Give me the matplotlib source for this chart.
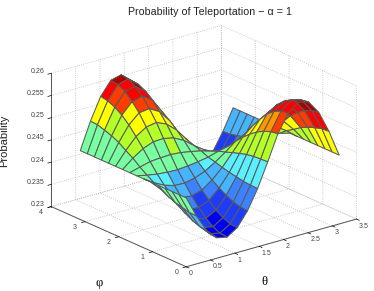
import numpy as np
import matplotlib
matplotlib.use('Agg')
import matplotlib.pyplot as plt
from matplotlib.colors import ListedColormap, BoundaryNorm
from mpl_toolkits.mplot3d import proj3d

plt.rcParams['font.family'] = ['Liberation Sans', 'DejaVu Sans']

theta_ticks = [0, 0.5, 1, 1.5, 2, 2.5, 3, 3.5]
theta_labels = ['0', '0.5', '1', '1.5', '2', '2.5', '3', '3.5']
phi_ticks = [0, 1, 2, 3, 4]
phi_labels = ['0', '1', '2', '3', '4']
prob_ticks = [0.23, 0.235, 0.24, 0.245, 0.25, 0.255, 0.26]
prob_labels = ['0.23', '0.235', '0.24', '0.245', '0.25', '0.255', '0.26']

# colour bands seen on the surface
band_edges = [0.23, 0.2354, 0.2381, 0.24, 0.2427, 0.2441, 0.247, 0.2505, 0.2532, 0.2541, 0.256, 0.2586, 0.262]
band_colors = ['#0000f0', '#1e3cf5', '#3c82ff', '#46b4ff', '#5af0ff', '#78ffa0',
               '#b4ff28', '#ffff00', '#ff9600', '#ff3c00', '#ff0000', '#aa0000']

# 16 x 16 samples over 0..pi, rows are theta, columns are phi
n_samples = 16
prob = [
    [.2455, .2455, .2455, .2455, .2455, .2455, .2455, .2455, .2455, .2455, .2455, .2455, .2455, .2455, .2455, .2455],
    [.2408, .2409, .2413, .2417, .2424, .2432, .2440, .2450, .2461, .2474, .2484, .2495, .2503, .2509, .2514, .2515],
    [.2369, .2371, .2377, .2386, .2398, .2413, .2428, .2446, .2467, .2489, .2509, .2528, .2543, .2554, .2561, .2564],
    [.2346, .2348, .2355, .2367, .2381, .2401, .2421, .2444, .2469, .2498, .2524, .2549, .2567, .2583, .2591, .2594],
    [.2341, .2343, .2350, .2362, .2379, .2398, .2420, .2443, .2470, .2499, .2528, .2552, .2573, .2588, .2598, .2600],
    [.2356, .2357, .2364, .2374, .2389, .2405, .2425, .2445, .2468, .2494, .2518, .2539, .2558, .2571, .2579, .2581],
    [.2387, .2389, .2393, .2401, .2410, .2421, .2434, .2448, .2464, .2482, .2498, .2512, .2524, .2533, .2539, .2542],
    [.2431, .2432, .2433, .2436, .2439, .2443, .2448, .2452, .2459, .2464, .2470, .2475, .2480, .2483, .2484, .2485],
    [.2485, .2484, .2483, .2480, .2475, .2470, .2464, .2459, .2452, .2448, .2443, .2439, .2436, .2433, .2432, .2431],
    [.2542, .2539, .2533, .2524, .2512, .2498, .2482, .2464, .2448, .2434, .2421, .2410, .2401, .2393, .2389, .2387],
    [.2581, .2579, .2571, .2558, .2539, .2518, .2494, .2468, .2445, .2425, .2405, .2389, .2374, .2364, .2357, .2356],
    [.2600, .2598, .2588, .2573, .2552, .2528, .2499, .2470, .2443, .2420, .2398, .2379, .2362, .2350, .2343, .2341],
    [.2594, .2591, .2583, .2567, .2549, .2524, .2498, .2469, .2444, .2421, .2401, .2381, .2367, .2355, .2348, .2346],
    [.2564, .2561, .2554, .2543, .2528, .2509, .2489, .2467, .2446, .2428, .2413, .2398, .2386, .2377, .2371, .2369],
    [.2515, .2514, .2509, .2503, .2495, .2484, .2474, .2461, .2450, .2440, .2432, .2424, .2417, .2413, .2409, .2408],
    [.2455, .2455, .2455, .2455, .2455, .2455, .2455, .2455, .2455, .2455, .2455, .2455, .2455, .2455, .2455, .2455],
]

theta = np.linspace(0, np.pi, n_samples)
phi = np.linspace(0, np.pi, n_samples)
X, Y = np.meshgrid(theta, phi, indexing='ij')
Z = np.array(prob)

fig = plt.figure(figsize=(3.74, 2.91), dpi=100)
ax = fig.add_axes([13 / 374, -4.6 / 291, 1.0, 1.0], projection='3d', proj_type='ortho')
ax.view_init(elev=20.7, azim=-128.4)
ax.set_box_aspect((1, 1, 0.656), zoom=1.13)

cmap = ListedColormap(band_colors)
norm = BoundaryNorm(band_edges, cmap.N)
colors = cmap(norm(Z))
ax.plot_surface(X, Y, Z, rstride=1, cstride=1, facecolors=colors, shade=False,
                edgecolor='#5a5a5a', linewidth=0.75, antialiased=True)

ax.set_xlim(0, 3.5, view_margin=0)
ax.set_ylim(0, 4, view_margin=0)
ax.set_zlim(0.23, 0.26, view_margin=0)
ax.set_xticks(theta_ticks)
ax.set_yticks(phi_ticks)
ax.set_zticks(prob_ticks)
ax.set_xticklabels([])
ax.set_yticklabels([])
ax.set_zticklabels([])

for axis in (ax.xaxis, ax.yaxis, ax.zaxis):
    axis.pane.set_facecolor('white')
    axis.pane.set_edgecolor('none')
    axis.line.set_color('#555555')
    axis.line.set_linewidth(0.7)
    axis._axinfo['grid'].update(color='#bbbbbb', linewidth=0.6, linestyle=':')
    axis._axinfo['tick'].update(inward_factor=0.25, outward_factor=0.0, linewidth={True: 0.5, False: 0.5})
    axis._axinfo['tick']['color'] = '#555555'


def tick_label(text, x, y, z, dx, dy, ha):
    # offsets are in pixels from the projected tick
    x2, y2, _ = proj3d.proj_transform(x, y, z, ax.get_proj())
    ax.annotate(text, xy=(x2, y2), xytext=(dx * 0.72, dy * 0.72), textcoords='offset points',
                ha=ha, va='center', fontsize=5.0, color='#444444', annotation_clip=False)


for t, s in zip(theta_ticks, theta_labels):
    tick_label(s, t, 0, 0.23, 2.5, -7, 'left')
for p, s in zip(phi_ticks, phi_labels):
    tick_label(s, 0, p, 0.23, -10, -6, 'center')
for v, s in zip(prob_ticks, prob_labels):
    tick_label(s, 0, 4, v, -7, 2, 'right')

fig.text(209.5 / 374, 1 - 12 / 291, 'Probability of Teleportation \u2212 \u03b1 = 1', fontsize=7.7, ha='center', va='center', color='#222222')
fig.text(4 / 374, 1 - 141 / 291, 'Probability', fontsize=8, rotation=90, ha='center', va='center', color='#222222')
fig.text(99 / 374, 1 - 283 / 291, '\u03c6', fontsize=9, family='Liberation Serif', ha='center', va='center')
fig.text(264 / 374, 1 - 282 / 291, '\u03b8', fontsize=9, family='Liberation Serif', ha='center', va='center')

fig.savefig('out.png', dpi=100)
